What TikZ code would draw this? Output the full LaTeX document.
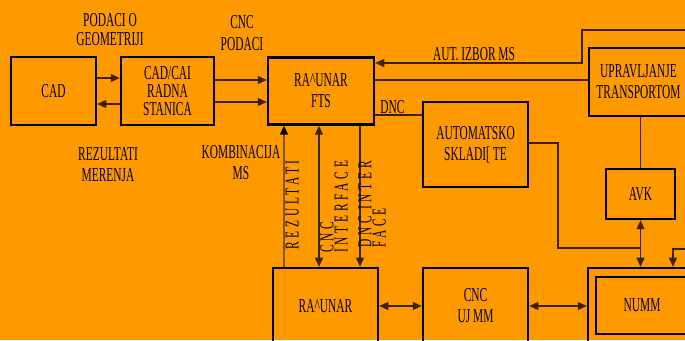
\documentclass[tikz,border=0pt]{standalone}
\usepackage{fontspec}
\setmainfont[FakeStretch=0.58]{Liberation Serif}
\newfontfamily\spacedfont[FakeStretch=0.58,LetterSpace=19]{Liberation Serif}
\usetikzlibrary{arrows.meta}
\definecolor{bgorange}{RGB}{255,153,0}
\definecolor{wirecol}{RGB}{60,35,0}
\definecolor{rezbrown}{RGB}{130,85,0}

\begin{document}
\begin{tikzpicture}[x=1pt, y=1pt, >={Triangle[length=9pt, width=8pt]},
    font=\fontsize{19.7}{21}\selectfont,
    box/.style={draw, line width=2.5pt, align=center, inner sep=0pt},
    wire/.style={draw=wirecol, line width=1.1pt},
    rezline/.style={draw=rezbrown, line width=2pt, -{Triangle[length=9pt, width=8pt, color=black]}},
    vlabel/.style={rotate=90, anchor=south west, inner sep=0pt, align=left,
      font=\spacedfont\fontsize{19.7}{13}\selectfont},
    lbl/.style={align=center, inner sep=0pt}]

  \useasboundingbox (0,0) rectangle (685,340);
  \fill[bgorange] (0,0) rectangle (685,340);
  \clip (0,0) rectangle (685,340);

  % top row
  \node[box, minimum width=85pt, minimum height=68pt] (cad) at (53.5,249) {CAD};
  \node[box, minimum width=93pt, minimum height=68pt, font=\fontsize{19.7}{18}\selectfont] (cadcai) at (167.5,249) {CAD/CAI\\RADNA\\STANICA};
  \node[box, minimum width=106pt, minimum height=67pt] (fts) at (321,249) {RA\textasciicircum UNAR\\FTS};
  \node[box, minimum width=99pt, minimum height=68pt] (uprav) at (638.5,258) {UPRAVLJANJE\\TRANSPORTOM};
  \node[box, minimum width=105pt, minimum height=85pt] (sklad) at (475.5,195.5) {AUTOMATSKO\\SKLADI[ TE};
  \node[box, minimum width=69pt, minimum height=50pt] (avk) at (640.5,146) {AVK};

  % bottom row
  \node[box, minimum width=105pt, minimum height=76pt] (racunar) at (325.5,34) {RA\textasciicircum UNAR};
  \node[box, minimum width=105pt, minimum height=76pt] (cncuj) at (475.5,34) {CNC\\UJ MM};
  \node[box, minimum width=108pt, minimum height=76pt] (numm) at (642,34) {};
  \node[draw, line width=1.2pt, minimum width=92pt, minimum height=57pt] (nummin) at (642,34.5) {NUMM};

  % labels
  \node[lbl, font=\fontsize{19.7}{19}\selectfont] (geom) at (110,310) {PODACI O\\GEOMETRIJI};
  \node[lbl, font=\fontsize{19.7}{22}\selectfont] (cncpod) at (242,306.5) {CNC\\PODACI};
  \node[lbl] (merenja) at (108,175) {REZULTATI\\MERENJA};
  \node[lbl] (komb) at (241,177) {KOMBINACIJA\\MS};
  \node[lbl] (autlbl) at (474,285.5) {AUT. IZBOR MS};

  \draw[wire,->] ([yshift=13pt]cad.east) -- ([yshift=13pt]cadcai.west);
  \draw[wire,->] ([yshift=-13pt]cadcai.west) -- ([yshift=-13pt]cad.east);
  \draw[wire,->] ([yshift=11pt]cadcai.east) -- ([yshift=11pt]fts.west);
  \draw[wire,->] ([yshift=-11pt]cadcai.east) -- ([yshift=-11pt]fts.west);

  \coordinate (autin) at (690,310);
  \coordinate (autbend) at (582,310);
  \draw[wire,->] (autin) -- (autbend) |- ([yshift=28pt]fts.east);
  \draw[wire] ([yshift=11pt]fts.east) -- ([yshift=2pt]uprav.west);
  \draw[wire] ([yshift=-24pt]fts.east) -- node[above, pos=0.37, inner sep=1pt] (dnclbl) {DNC} ([yshift=29.5pt]sklad.west);

  \draw[wire] (avk.north |- uprav.south) -- (avk.north);
  \coordinate (skladbend) at (558,92);
  \draw[wire] ([yshift=1.5pt]sklad.east) -| (skladbend) -- (skladbend -| avk.south);
  \draw[wire,<->] (avk.south) -- (avk.south |- numm.north);
  \coordinate (nummfeed) at (690,91);
  \draw[wire,->] (nummfeed) -| ([xshift=31pt]numm.north);

  \draw[wire,<->] (racunar.east) -- (cncuj.west);
  \draw[wire,<->] (cncuj.east) -- (numm.west);

  % links between the two computers
  \coordinate (rez) at (284,0);
  \coordinate (cif) at (319,0);
  \coordinate (dif) at (360,0);
  \draw[rezline] (rez |- racunar.north) -- (rez |- fts.south);
  \draw[wire,<->] (cif |- racunar.north) -- (cif |- fts.south);
  \draw[wire,->] (dif |- fts.south) -- (dif |- racunar.north);

  \node[vlabel] (rezlbl) at (299,90) {REZULTATI};
  \node[vlabel] (ciflbl) at (348,87) {CNC\\INTERFACE};
  \node[vlabel] (diflbl) at (386,92) {DNC INTER\\FACE};
\end{tikzpicture}
\end{document}
